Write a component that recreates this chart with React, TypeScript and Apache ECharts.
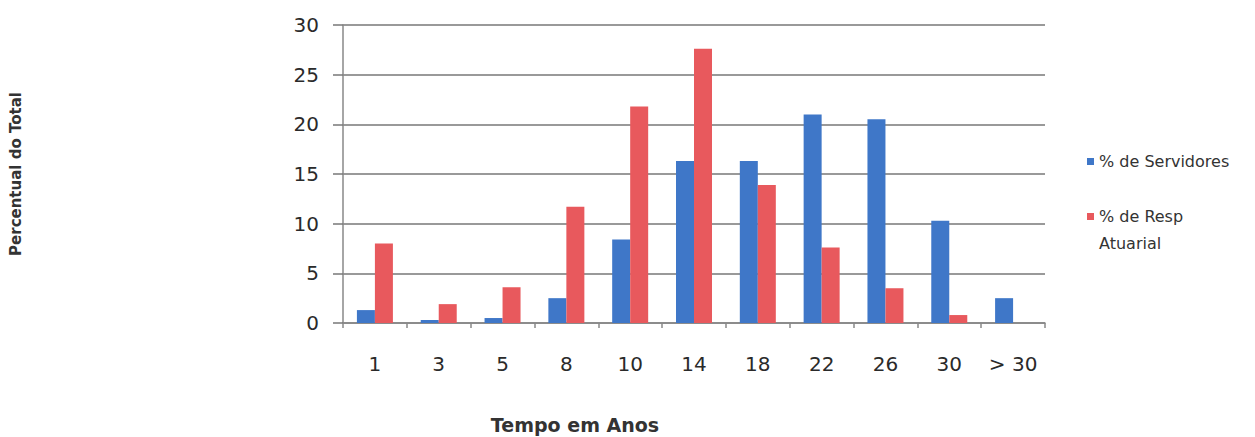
import React, { useEffect, useRef } from "react";
import * as echarts from "echarts";

const categories = ["1", "3", "5", "8", "10", "14", "18", "22", "26", "30", "> 30"];
const servidores = [1.3, 0.3, 0.5, 2.5, 8.4, 16.3, 16.3, 21.0, 20.5, 10.3, 2.5];
const respAtuarial = [8.0, 1.9, 3.6, 11.7, 21.8, 27.6, 13.9, 7.6, 3.5, 0.8, 0];
const yTicks = { min: 0, max: 30, interval: 5 };

const NAME_SERV = "% de Servidores";
const NAME_RESP = "% de Resp Atuarial";

export default function App() {
  const ref = useRef<HTMLDivElement>(null);
  useEffect(() => {
    document.body.style.margin = "0";
    const chart = echarts.init(ref.current!, undefined, { renderer: "svg" });
    const font = "DejaVu Sans";
    chart.setOption({
      animation: false,
      backgroundColor: "#ffffff",
      grid: { left: 335, right: 210, top: 25, bottom: 114 },
      legend: {
        orient: "vertical",
        left: 1087,
        top: 148,
        padding: 0,
        icon: "rect",
        itemWidth: 7,
        itemHeight: 7,
        itemGap: 1,
        textStyle: { fontFamily: font, fontSize: 16, color: "#333", lineHeight: 27 },
        formatter: (n: string) => (n === NAME_RESP ? " \n% de Resp\nAtuarial" : n),
        data: [NAME_SERV, NAME_RESP],
      },
      xAxis: {
        type: "category",
        data: categories,
        axisLine: { lineStyle: { color: "#888", width: 1.5 } },
        axisTick: { show: true, length: 5, lineStyle: { color: "#888", width: 1.5 } },
        axisLabel: { fontFamily: font, fontSize: 20, color: "#2a2a2a", margin: 31 },
      },
      yAxis: {
        type: "value",
        min: yTicks.min,
        max: yTicks.max,
        interval: yTicks.interval,
        name: "Percentual do Total",
        nameLocation: "middle",
        nameGap: 320,
        nameTextStyle: { fontFamily: font, fontSize: 15, fontWeight: "bold", color: "#333" },
        axisLine: { show: true, lineStyle: { color: "#888", width: 1.5 } },
        axisTick: { show: true, length: 10, lineStyle: { color: "#777", width: 1.5 } },
        axisLabel: { fontFamily: font, fontSize: 20, color: "#2a2a2a", margin: 24 },
        splitLine: { lineStyle: { color: "#777", width: 1.5 } },
      },
      graphic: [
        {
          type: "text",
          x: 575,
          y: 425,
          style: {
            text: "Tempo em Anos",
            fontFamily: font,
            fontSize: 19,
            fontWeight: "bold",
            fill: "#333",
            textAlign: "center",
            textVerticalAlign: "middle",
          },
        },
      ],
      series: [
        {
          name: NAME_SERV,
          type: "bar",
          data: servidores,
          barWidth: 18,
          barGap: "0%",
          itemStyle: { color: "#3F77C8" },
        },
        {
          name: NAME_RESP,
          type: "bar",
          data: respAtuarial,
          barWidth: 18,
          barGap: "0%",
          itemStyle: { color: "#E8595D" },
        },
      ],
    });
    return () => chart.dispose();
  }, []);
  return <div ref={ref} style={{ width: 1255, height: 437 }} />;
}
